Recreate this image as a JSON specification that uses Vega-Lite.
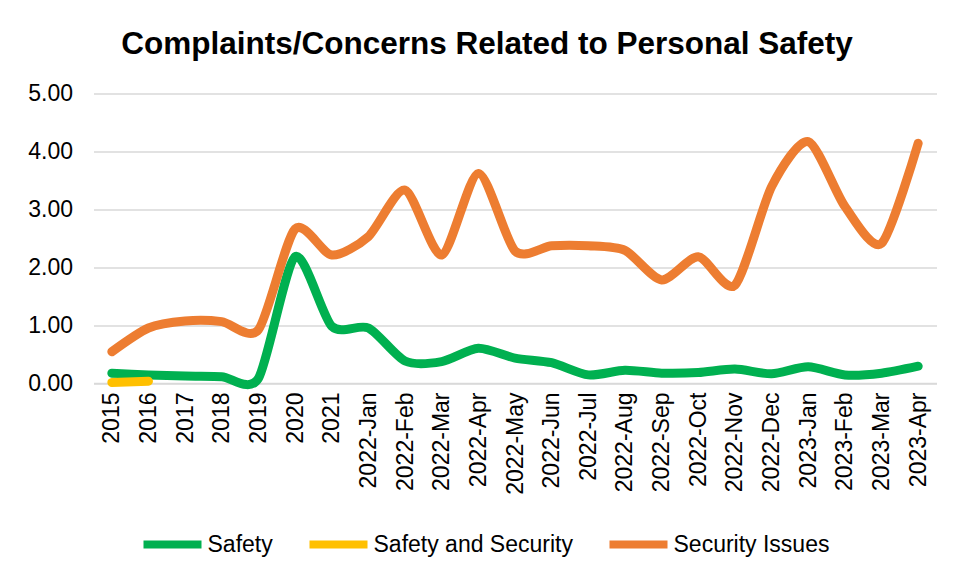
{
  "$schema": "https://vega.github.io/schema/vega-lite/v6.json",
  "width": 843,
  "height": 289.5,
  "autosize": {"type": "none"},
  "padding": {"left": 93.5, "top": 93.5, "right": 17.5, "bottom": 194},
  "background": "white",
  "title": {
    "text": "Complaints/Concerns Related to Personal Safety",
    "font": "Liberation Sans",
    "fontSize": 31.5,
    "fontWeight": "bold",
    "color": "#000000",
    "anchor": "middle",
    "frame": "group",
    "baseline": "alphabetic",
    "offset": -3,
    "dx": -28
  },
  "data": {
    "values": [
      {"period": "2015", "series": "Safety", "value": 0.17},
      {"period": "2016", "series": "Safety", "value": 0.14},
      {"period": "2017", "series": "Safety", "value": 0.12},
      {"period": "2018", "series": "Safety", "value": 0.11},
      {"period": "2019", "series": "Safety", "value": 0.08},
      {"period": "2020", "series": "Safety", "value": 2.18},
      {"period": "2021", "series": "Safety", "value": 0.98},
      {"period": "2022-Jan", "series": "Safety", "value": 0.95},
      {"period": "2022-Feb", "series": "Safety", "value": 0.38},
      {"period": "2022-Mar", "series": "Safety", "value": 0.37},
      {"period": "2022-Apr", "series": "Safety", "value": 0.60},
      {"period": "2022-May", "series": "Safety", "value": 0.43},
      {"period": "2022-Jun", "series": "Safety", "value": 0.35},
      {"period": "2022-Jul", "series": "Safety", "value": 0.14},
      {"period": "2022-Aug", "series": "Safety", "value": 0.22},
      {"period": "2022-Sep", "series": "Safety", "value": 0.17},
      {"period": "2022-Oct", "series": "Safety", "value": 0.18},
      {"period": "2022-Nov", "series": "Safety", "value": 0.24},
      {"period": "2022-Dec", "series": "Safety", "value": 0.16},
      {"period": "2023-Jan", "series": "Safety", "value": 0.28},
      {"period": "2023-Feb", "series": "Safety", "value": 0.14},
      {"period": "2023-Mar", "series": "Safety", "value": 0.17},
      {"period": "2023-Apr", "series": "Safety", "value": 0.29},
      {"period": "2015", "series": "Safety and Security", "value": 0.01},
      {"period": "2016", "series": "Safety and Security", "value": 0.03},
      {"period": "2015", "series": "Security Issues", "value": 0.54},
      {"period": "2016", "series": "Security Issues", "value": 0.95},
      {"period": "2017", "series": "Security Issues", "value": 1.07},
      {"period": "2018", "series": "Security Issues", "value": 1.06},
      {"period": "2019", "series": "Security Issues", "value": 0.92},
      {"period": "2020", "series": "Security Issues", "value": 2.66},
      {"period": "2021", "series": "Security Issues", "value": 2.21},
      {"period": "2022-Jan", "series": "Security Issues", "value": 2.53},
      {"period": "2022-Feb", "series": "Security Issues", "value": 3.33},
      {"period": "2022-Mar", "series": "Security Issues", "value": 2.21},
      {"period": "2022-Apr", "series": "Security Issues", "value": 3.62},
      {"period": "2022-May", "series": "Security Issues", "value": 2.28},
      {"period": "2022-Jun", "series": "Security Issues", "value": 2.37},
      {"period": "2022-Jul", "series": "Security Issues", "value": 2.37},
      {"period": "2022-Aug", "series": "Security Issues", "value": 2.29},
      {"period": "2022-Sep", "series": "Security Issues", "value": 1.78},
      {"period": "2022-Oct", "series": "Security Issues", "value": 2.18},
      {"period": "2022-Nov", "series": "Security Issues", "value": 1.69},
      {"period": "2022-Dec", "series": "Security Issues", "value": 3.39},
      {"period": "2023-Jan", "series": "Security Issues", "value": 4.17},
      {"period": "2023-Feb", "series": "Security Issues", "value": 3.05},
      {"period": "2023-Mar", "series": "Security Issues", "value": 2.41},
      {"period": "2023-Apr", "series": "Security Issues", "value": 4.14}
    ]
  },
  "mark": {"type": "line", "interpolate": "cardinal", "tension": 0.25, "strokeWidth": 9, "strokeCap": "round", "strokeJoin": "round"},
  "encoding": {
    "x": {
      "field": "period",
      "type": "ordinal",
      "sort": null,
      "scale": {"type": "point", "padding": 0.5},
      "axis": {
        "title": null,
        "labelAngle": -90,
        "labelAlign": "right",
        "labelBaseline": "middle",
        "labelFont": "Liberation Sans",
        "labelFontSize": 23,
        "labelColor": "#000000",
        "labelPadding": 9,
        "ticks": false,
        "domain": true,
        "domainColor": "#D9D9D9",
        "domainWidth": 1.5,
        "grid": false
      }
    },
    "y": {
      "field": "value",
      "type": "quantitative",
      "scale": {"domain": [0, 5], "nice": false},
      "axis": {
        "title": null,
        "values": [0, 1, 2, 3, 4, 5],
        "format": ".2f",
        "labelFont": "Liberation Sans",
        "labelFontSize": 23,
        "labelColor": "#000000",
        "labelPadding": 21,
        "ticks": false,
        "domain": false,
        "grid": true,
        "gridColor": "#D9D9D9",
        "gridWidth": 1.5
      }
    },
    "color": {
      "field": "series",
      "type": "nominal",
      "scale": {
        "domain": ["Safety", "Safety and Security", "Security Issues"],
        "range": ["#00B050", "#FFC000", "#ED7D31"]
      },
      "legend": {
        "title": null,
        "orient": "none",
        "direction": "horizontal",
        "legendX": 46,
        "legendY": 418,
        "symbolType": "stroke",
        "symbolSize": 3364,
        "symbolStrokeWidth": 8,
        "labelFont": "Liberation Sans",
        "labelFontSize": 23,
        "labelColor": "#000000",
        "labelOffset": 2,
        "labelLimit": 0,
        "columnPadding": 20
      }
    }
  },
  "config": {"view": {"stroke": null}}
}
